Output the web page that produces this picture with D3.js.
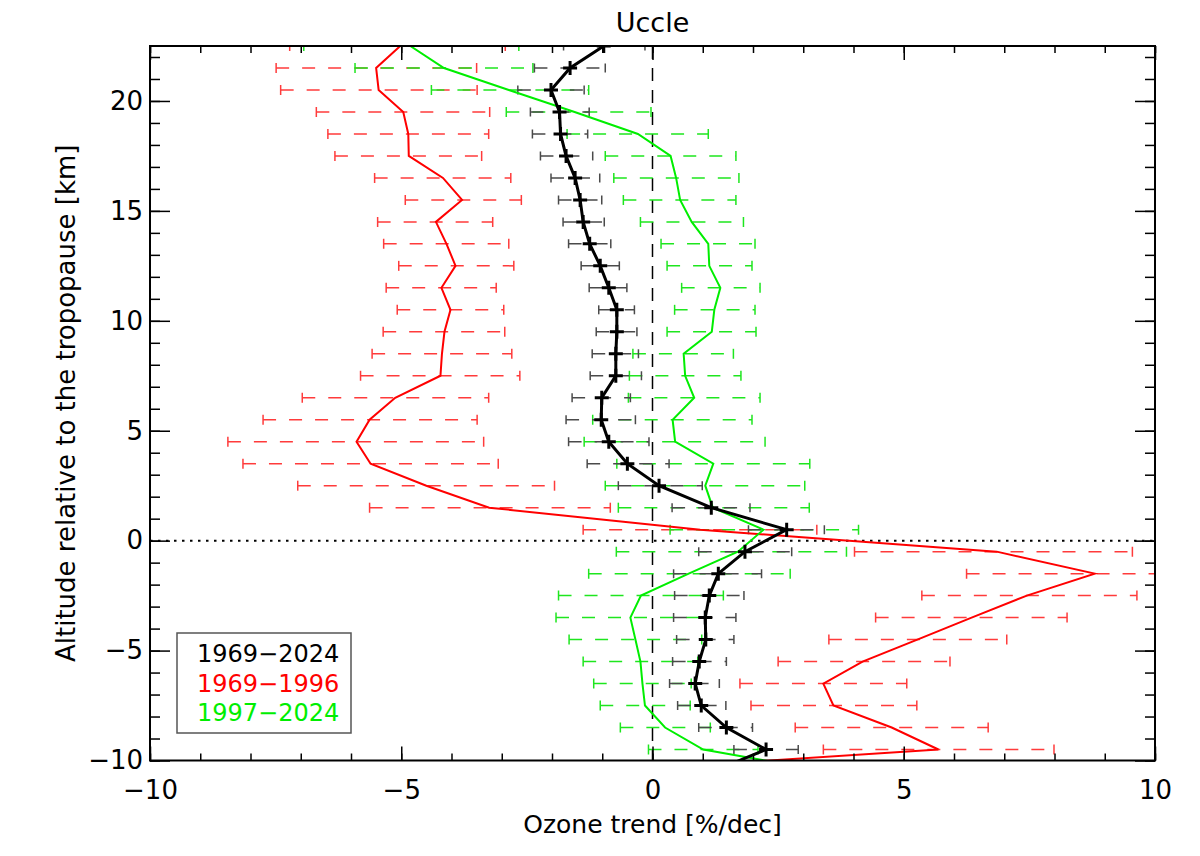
<!DOCTYPE html>
<html>
<head>
  <meta charset="utf-8">
  <title>Uccle</title>
  <style>
    body {margin:0; background:#fff;}
    svg text {font-family: "DejaVu Sans", sans-serif; fill:#000;}
    svg .axis path {display:none;}
    svg .axis line {stroke:#000; stroke-width:1.5;}
  </style>
</head>
<body>
<script src="https://cdn.jsdelivr.net/npm/d3@7"></script>
<script>
  var width = 1200,
      height = 856,
      left = 150, right = 1155,
      top_ = 46, bottom = 760.5;

  // altitude relative to the tropopause, km
  var altitudes = [22.5, 21.5, 20.5, 19.5, 18.5, 17.5, 16.5, 15.5, 14.5, 13.5, 12.5, 11.5,
    10.5, 9.5, 8.5, 7.5, 6.5, 5.5, 4.5, 3.5, 2.5, 1.5, 0.5, -0.5, -1.5, -2.5, -3.5,
    -4.5, -5.5, -6.5, -7.5, -8.5, -9.5, -10.5];

  // 1969-2024
  var trendAll = [-0.97, -1.64, -2.02, -1.85, -1.83, -1.72, -1.54, -1.44, -1.38, -1.25, -1.04, -0.87,
    -0.71, -0.71, -0.73, -0.73, -1.01, -1.02, -0.87, -0.50, 0.13, 1.17, 2.67, 1.84, 1.31, 1.13, 1.05,
    1.06, 0.93, 0.85, 0.97, 1.47, 2.26, 1.20];
  var loAll = [-1.77, -2.35, -2.68, -2.43, -2.39, -2.23, -2.02, -1.87, -1.78, -1.67, -1.42, -1.26,
    -1.07, -1.12, -1.20, -1.24, -1.60, -1.72, -1.67, -1.30, -0.68, 0.39, 1.91, 0.92, 0.42, 0.44, 0.42,
    0.48, 0.40, 0.34, 0.50, 0.92, 1.62, 0.55];
  var hiAll = [-0.15, -0.94, -1.36, -1.26, -1.29, -1.19, -1.05, -1.01, -0.96, -0.83, -0.66, -0.51,
    -0.36, -0.31, -0.28, -0.22, -0.44, -0.34, -0.07, 0.33, 0.99, 1.94, 3.42, 2.77, 2.17, 1.82, 1.66,
    1.62, 1.47, 1.33, 1.46, 1.99, 2.90, 1.85];

  // 1969-1996
  var trendEarly = [-5.02, -5.50, -5.45, -4.96, -4.86, -4.85, -4.17, -3.79, -4.31, -4.10, -3.92, -4.20,
    -4.02, -4.14, -4.19, -4.22, -5.12, -5.63, -5.89, -5.61, -4.50, -3.25, 0.95, 6.85, 8.80, 7.45, 6.35,
    5.27, 4.18, 3.40, 3.60, 4.76, 5.69, -1.07];
  var loEarly = [-7.22, -7.49, -7.40, -6.69, -6.46, -6.32, -5.53, -4.92, -5.47, -5.35, -5.05, -5.30,
    -5.08, -5.36, -5.58, -5.81, -6.97, -7.75, -8.45, -8.15, -7.06, -5.63, -1.38, 4.02, 6.25, 5.36, 4.44,
    3.51, 2.50, 1.74, 1.96, 2.84, 3.40, -3.40];
  var hiEarly = [-2.93, -3.50, -3.49, -3.24, -3.26, -3.40, -2.82, -2.61, -3.18, -2.86, -2.76, -3.11,
    -2.96, -2.94, -2.80, -2.64, -3.26, -3.49, -3.36, -3.07, -1.95, -0.84, 3.27, 9.55, 11.35, 9.64, 8.25,
    7.05, 5.92, 5.06, 5.26, 6.68, 7.99, 1.30];

  // 1997-2024
  var trendLate = [-4.82, -4.15, -2.86, -1.55, -0.29, 0.36, 0.47, 0.55, 0.78, 1.11, 1.13, 1.35,
    1.23, 1.18, 0.62, 0.65, 0.83, 0.40, 0.45, 1.21, 1.05, 1.20, 2.21, 1.70, 0.72, -0.23, -0.44,
    -0.34, -0.24, -0.20, -0.15, 0.25, 1.01, 3.47];
  var loLate = [-6.94, -5.92, -4.40, -2.91, -1.70, -0.94, -0.77, -0.58, -0.24, 0.17, 0.29, 0.58,
    0.44, 0.29, -0.39, -0.46, -0.48, -1.19, -1.36, -0.71, -0.94, -0.68, 0.35, -0.72, -1.27, -1.87, -1.92,
    -1.66, -1.38, -1.17, -1.04, -0.64, -0.08, 2.30];
  var hiLate = [-2.66, -2.38, -1.27, -0.03, 1.11, 1.66, 1.72, 1.66, 1.81, 2.04, 1.98, 2.14,
    2.04, 2.06, 1.61, 1.76, 2.14, 1.98, 2.24, 3.13, 3.03, 3.12, 4.10, 3.86, 2.74, 1.41, 1.04,
    0.98, 0.90, 0.77, 0.75, 1.15, 2.10, 4.60];

  var xTicks = [-10, -5, 0, 5, 10],
      yTicks = [-10, -5, 0, 5, 10, 15, 20],
      legendLabels = ['1969\u22122024', '1969\u22121996', '1997\u22122024'];

  var x = d3.scaleLinear().domain([-10, 10]).range([left, right]);
  var y = d3.scaleLinear().domain([-10, 22.5]).range([bottom, top_]);

  var svg = d3.select('body')
    .append('svg')
    .attr('width', width)
    .attr('height', height);

  svg.append('defs')
    .append('clipPath')
    .attr('id', 'plot')
      .append('rect')
      .attr('x', left)
      .attr('y', top_)
      .attr('width', right - left)
      .attr('height', bottom - top_);

  var plot = svg.append('g').attr('clip-path', 'url(#plot)');

  // reference lines
  plot.append('line')
    .attr('x1', x(0)).attr('x2', x(0))
    .attr('y1', top_).attr('y2', bottom)
    .style('stroke', '#000').style('stroke-width', 1.5)
    .style('stroke-dasharray', '13,9');

  plot.append('line')
    .attr('x1', left).attr('x2', right)
    .attr('y1', y(0)).attr('y2', y(0))
    .style('stroke', '#000').style('stroke-width', 2)
    .style('stroke-dasharray', '2.5,5.5');

  function errbars(lo, hi, color, cap){
    var g = plot.append('g').style('stroke', color).style('stroke-width', 1.5);
    altitudes.forEach(function(a, i){
      g.append('line')
        .attr('x1', x(lo[i])).attr('x2', x(hi[i]))
        .attr('y1', y(a)).attr('y2', y(a))
        .style('stroke-dasharray', '13,13');
      [lo[i], hi[i]].forEach(function(v){
        g.append('line')
          .attr('x1', x(v)).attr('x2', x(v))
          .attr('y1', y(a) - cap).attr('y2', y(a) + cap);
      });
    });
  }

  function profile(values, color, w){
    plot.append('path')
      .datum(altitudes)
      .attr('d', d3.line()
        .x(function(a, i){ return x(values[i]); })
        .y(function(a){ return y(a); }))
      .style('fill', 'none')
      .style('stroke', color)
      .style('stroke-width', w)
      .style('stroke-linejoin', 'miter');
  }

  errbars(loEarly, hiEarly, '#ff3b3b', 5);
  errbars(loLate, hiLate, '#1ee61e', 5);
  errbars(loAll, hiAll, '#4a4a4a', 4.5);

  profile(trendEarly, '#ff0000', 2);
  profile(trendLate, '#00ee00', 2);
  profile(trendAll, '#000', 3);

  plot.append('g')
    .selectAll('path')
    .data(altitudes)
    .enter().append('path')
    .attr('d', function(a, i){
      var cx = x(trendAll[i]), cy = y(a);
      return 'M' + (cx - 7) + ',' + cy + 'H' + (cx + 7) + 'M' + cx + ',' + (cy - 7) + 'V' + (cy + 7);
    })
    .style('stroke', '#000')
    .style('stroke-width', 3);

  // axes, ticks inward on all four sides
  var minorX = d3.range(-10, 11, 1),
      minorY = d3.range(-10, 23, 1);

  function ax(gen, tr, ticks, size, labels){
    var g = svg.append('g')
      .attr('class', 'axis')
      .attr('transform', tr)
      .call(gen.tickValues(ticks).tickSize(size).tickPadding(labels ? 9 : 0)
        .tickFormat(labels ? function(d){ return d < 0 ? '\u2212' + (-d) : d; } : ''));
    g.selectAll('text').style('font-size', '26px');
    return g;
  }

  ax(d3.axisBottom(x), 'translate(0,' + bottom + ')', minorX, -7);
  ax(d3.axisBottom(x), 'translate(0,' + bottom + ')', xTicks, -14, true)
    .selectAll('text').attr('dy', null).attr('y', 38);
  ax(d3.axisTop(x), 'translate(0,' + top_ + ')', minorX, -7);
  ax(d3.axisTop(x), 'translate(0,' + top_ + ')', xTicks, -14);

  ax(d3.axisLeft(y), 'translate(' + left + ',0)', minorY, -10);
  ax(d3.axisLeft(y), 'translate(' + left + ',0)', yTicks, -20, true)
    .selectAll('text').attr('x', -7);
  ax(d3.axisRight(y), 'translate(' + right + ',0)', minorY, -10);
  ax(d3.axisRight(y), 'translate(' + right + ',0)', yTicks, -20);

  svg.append('rect')
    .attr('x', left).attr('y', top_)
    .attr('width', right - left).attr('height', bottom - top_)
    .style('fill', 'none').style('stroke', '#000').style('stroke-width', 2);

  svg.append('text')
    .text('Uccle')
    .attr('x', (left + right) / 2)
    .attr('y', 32)
    .style('text-anchor', 'middle')
    .style('font-size', '27px');

  svg.append('text')
    .text('Ozone trend [%/dec]')
    .attr('x', (left + right) / 2)
    .attr('y', 833)
    .style('text-anchor', 'middle')
    .style('font-size', '25px');

  svg.append('text')
    .text('Altitude relative to the tropopause [km]')
    .attr('transform', 'translate(75,' + (top_ + bottom) / 2 + ') rotate(-90)')
    .style('text-anchor', 'middle')
    .style('font-size', '26px');

  // legend
  var legendColors = ['#000', '#ff0000', '#00ee00'];

  svg.append('rect')
    .attr('x', 177).attr('y', 633)
    .attr('width', 174).attr('height', 100)
    .style('fill', '#fff').style('stroke', '#555').style('stroke-width', 1.5);

  svg.append('g')
    .selectAll('text')
    .data(legendLabels)
    .enter().append('text')
    .text(function(d){ return d; })
    .attr('x', 197)
    .attr('y', function(d, i){ return 662 + i * 29.5; })
    .style('fill', function(d, i){ return legendColors[i]; })
    .style('font-size', '24px');
</script>
</body>
</html>
